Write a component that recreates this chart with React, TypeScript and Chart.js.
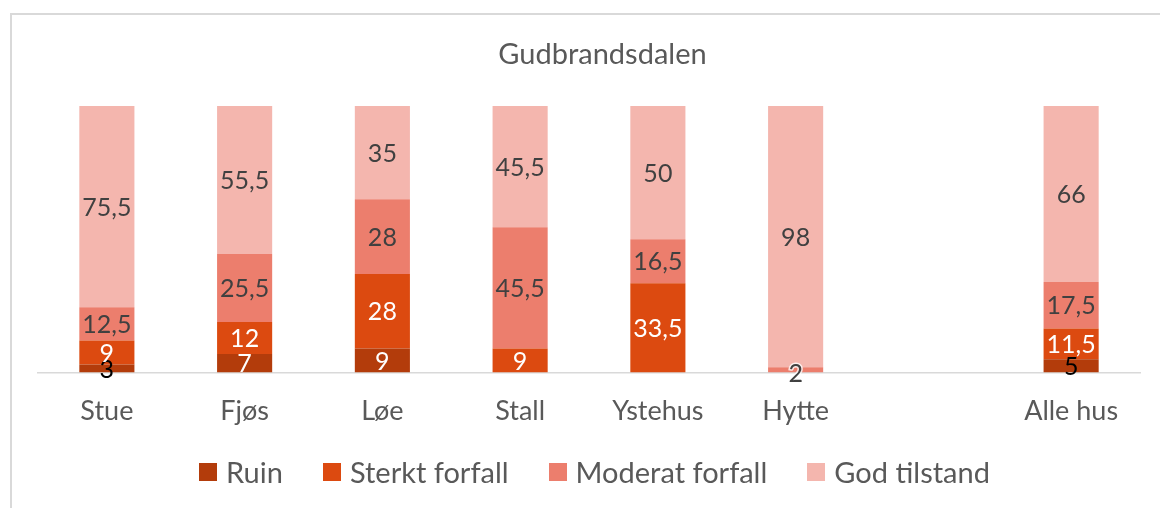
import React, { useEffect, useRef } from "react";
import { Chart, registerables } from "chart.js";

Chart.register(...registerables);

const chartTitle = "Gudbrandsdalen";
const categories = ["Stue", "Fjøs", "Løe", "Stall", "Ystehus", "Hytte", "", "Alle hus"];
const seriesNames = ["Ruin", "Sterkt forfall", "Moderat forfall", "God tilstand"];
const ruin = [3, 7, 9, 0, 0, 0, null, 5];
const sterktForfall = [9, 12, 28, 9, 33.5, 0, null, 11.5];
const moderatForfall = [12.5, 25.5, 28, 45.5, 16.5, 2, null, 17.5];
const godTilstand = [75.5, 55.5, 35, 45.5, 50, 98, null, 66];

const colors = ["#B33C0B", "#DC4A10", "#EC7E6D", "#F4B6AE"];
const FONT = "Lato, 'Open Sans', sans-serif";

const labelPlugin = {
  id: "segLabels",
  afterDatasetsDraw(chart: any) {
    const ctx = chart.ctx;
    ctx.save();
    ctx.font = `25px ${FONT}`;
    ctx.textAlign = "center";
    ctx.textBaseline = "middle";
    chart.data.datasets.forEach((ds: any, di: number) => {
      const meta = chart.getDatasetMeta(di);
      meta.data.forEach((el: any, i: number) => {
        const v = ds.data[i];
        if (v == null || v === 0) return;
        const y = (el.y + el.base) / 2;
        let color = "#404040";
        if (di === 0) color = v >= 7 ? "#FFFFFF" : "#000000";
        else if (di === 1) color = "#FFFFFF";
        const txt = String(v).replace(".", ",");
        const small = di === 2 && v < 5;
        const ty = small ? y + 4 : y + 1;
        if (small) {
          ctx.lineWidth = 3;
          ctx.strokeStyle = "rgba(255,255,255,0.8)";
          ctx.strokeText(txt, el.x, ty);
        }
        ctx.fillStyle = color;
        ctx.fillText(txt, el.x, ty);
      });
    });
    ctx.restore();
  },
};

export default function App() {
  const ref = useRef<HTMLCanvasElement>(null);
  useEffect(() => {
    if (!ref.current) return;
    const mk = (label: string, data: any[], c: string) => ({
      label,
      data,
      backgroundColor: c,
      borderWidth: 0,
      categoryPercentage: 1,
      barPercentage: 0.4,
    });
    const chart = new Chart(ref.current, {
      type: "bar",
      data: {
        labels: categories,
        datasets: [
          mk(seriesNames[0], ruin, colors[0]),
          mk(seriesNames[1], sterktForfall, colors[1]),
          mk(seriesNames[2], moderatForfall, colors[2]),
          mk(seriesNames[3], godTilstand, colors[3]),
        ],
      },
      options: {
        animation: false,
        responsive: false,
        maintainAspectRatio: false,
        layout: { padding: { left: 28, right: 56, top: 93, bottom: 67 } },
        plugins: {
          title: { display: false },
          legend: { display: false },
          tooltip: { enabled: false },
        },
        scales: {
          x: {
            stacked: true,
            grid: { display: false },
            border: { display: true, color: "#D9D9D9", width: 1.5 },
            ticks: {
              color: "#595959",
              font: { family: FONT, size: 27 },
              padding: 14,
              maxRotation: 0,
            },
          },
          y: {
            stacked: true,
            display: false,
            min: 0,
            max: 100,
          },
        },
      },
      plugins: [labelPlugin],
    });
    return () => chart.destroy();
  }, []);

  return (
    <div
      style={{
        position: "fixed",
        left: 0,
        top: 0,
        width: 1160,
        height: 508,
        overflow: "hidden",
        background: "#fff",
      }}
    >
      <div
        style={{
          position: "absolute",
          left: 10,
          top: 13,
          width: 1186,
          height: 520,
          border: "2px solid #D9D9D9",
          boxSizing: "border-box",
        }}
      />
      <canvas
        ref={ref}
        width={1186}
        height={495}
        style={{ position: "absolute", left: 10, top: 13, width: 1186, height: 495 }}
      />
      <div
        style={{
          position: "absolute",
          left: 0,
          width: 1205,
          top: 35,
          height: 36,
          lineHeight: "36px",
          textAlign: "center",
          fontFamily: FONT,
          fontSize: 29,
          color: "#595959",
        }}
      >
        {chartTitle}
      </div>
      <div
        style={{
          position: "absolute",
          left: 0,
          width: 1189,
          top: 452,
          height: 40,
          display: "flex",
          justifyContent: "center",
          alignItems: "center",
          gap: 40,
          fontFamily: FONT,
          fontSize: 29,
          color: "#595959",
        }}
      >
        {seriesNames.map((n, i) => (
          <div key={n} style={{ display: "flex", alignItems: "center" }}>
            <span
              style={{
                display: "inline-block",
                width: 18,
                height: 18,
                background: colors[i],
                marginRight: 9,
              }}
            />
            <span style={{ lineHeight: "40px" }}>{n}</span>
          </div>
        ))}
      </div>
    </div>
  );
}
